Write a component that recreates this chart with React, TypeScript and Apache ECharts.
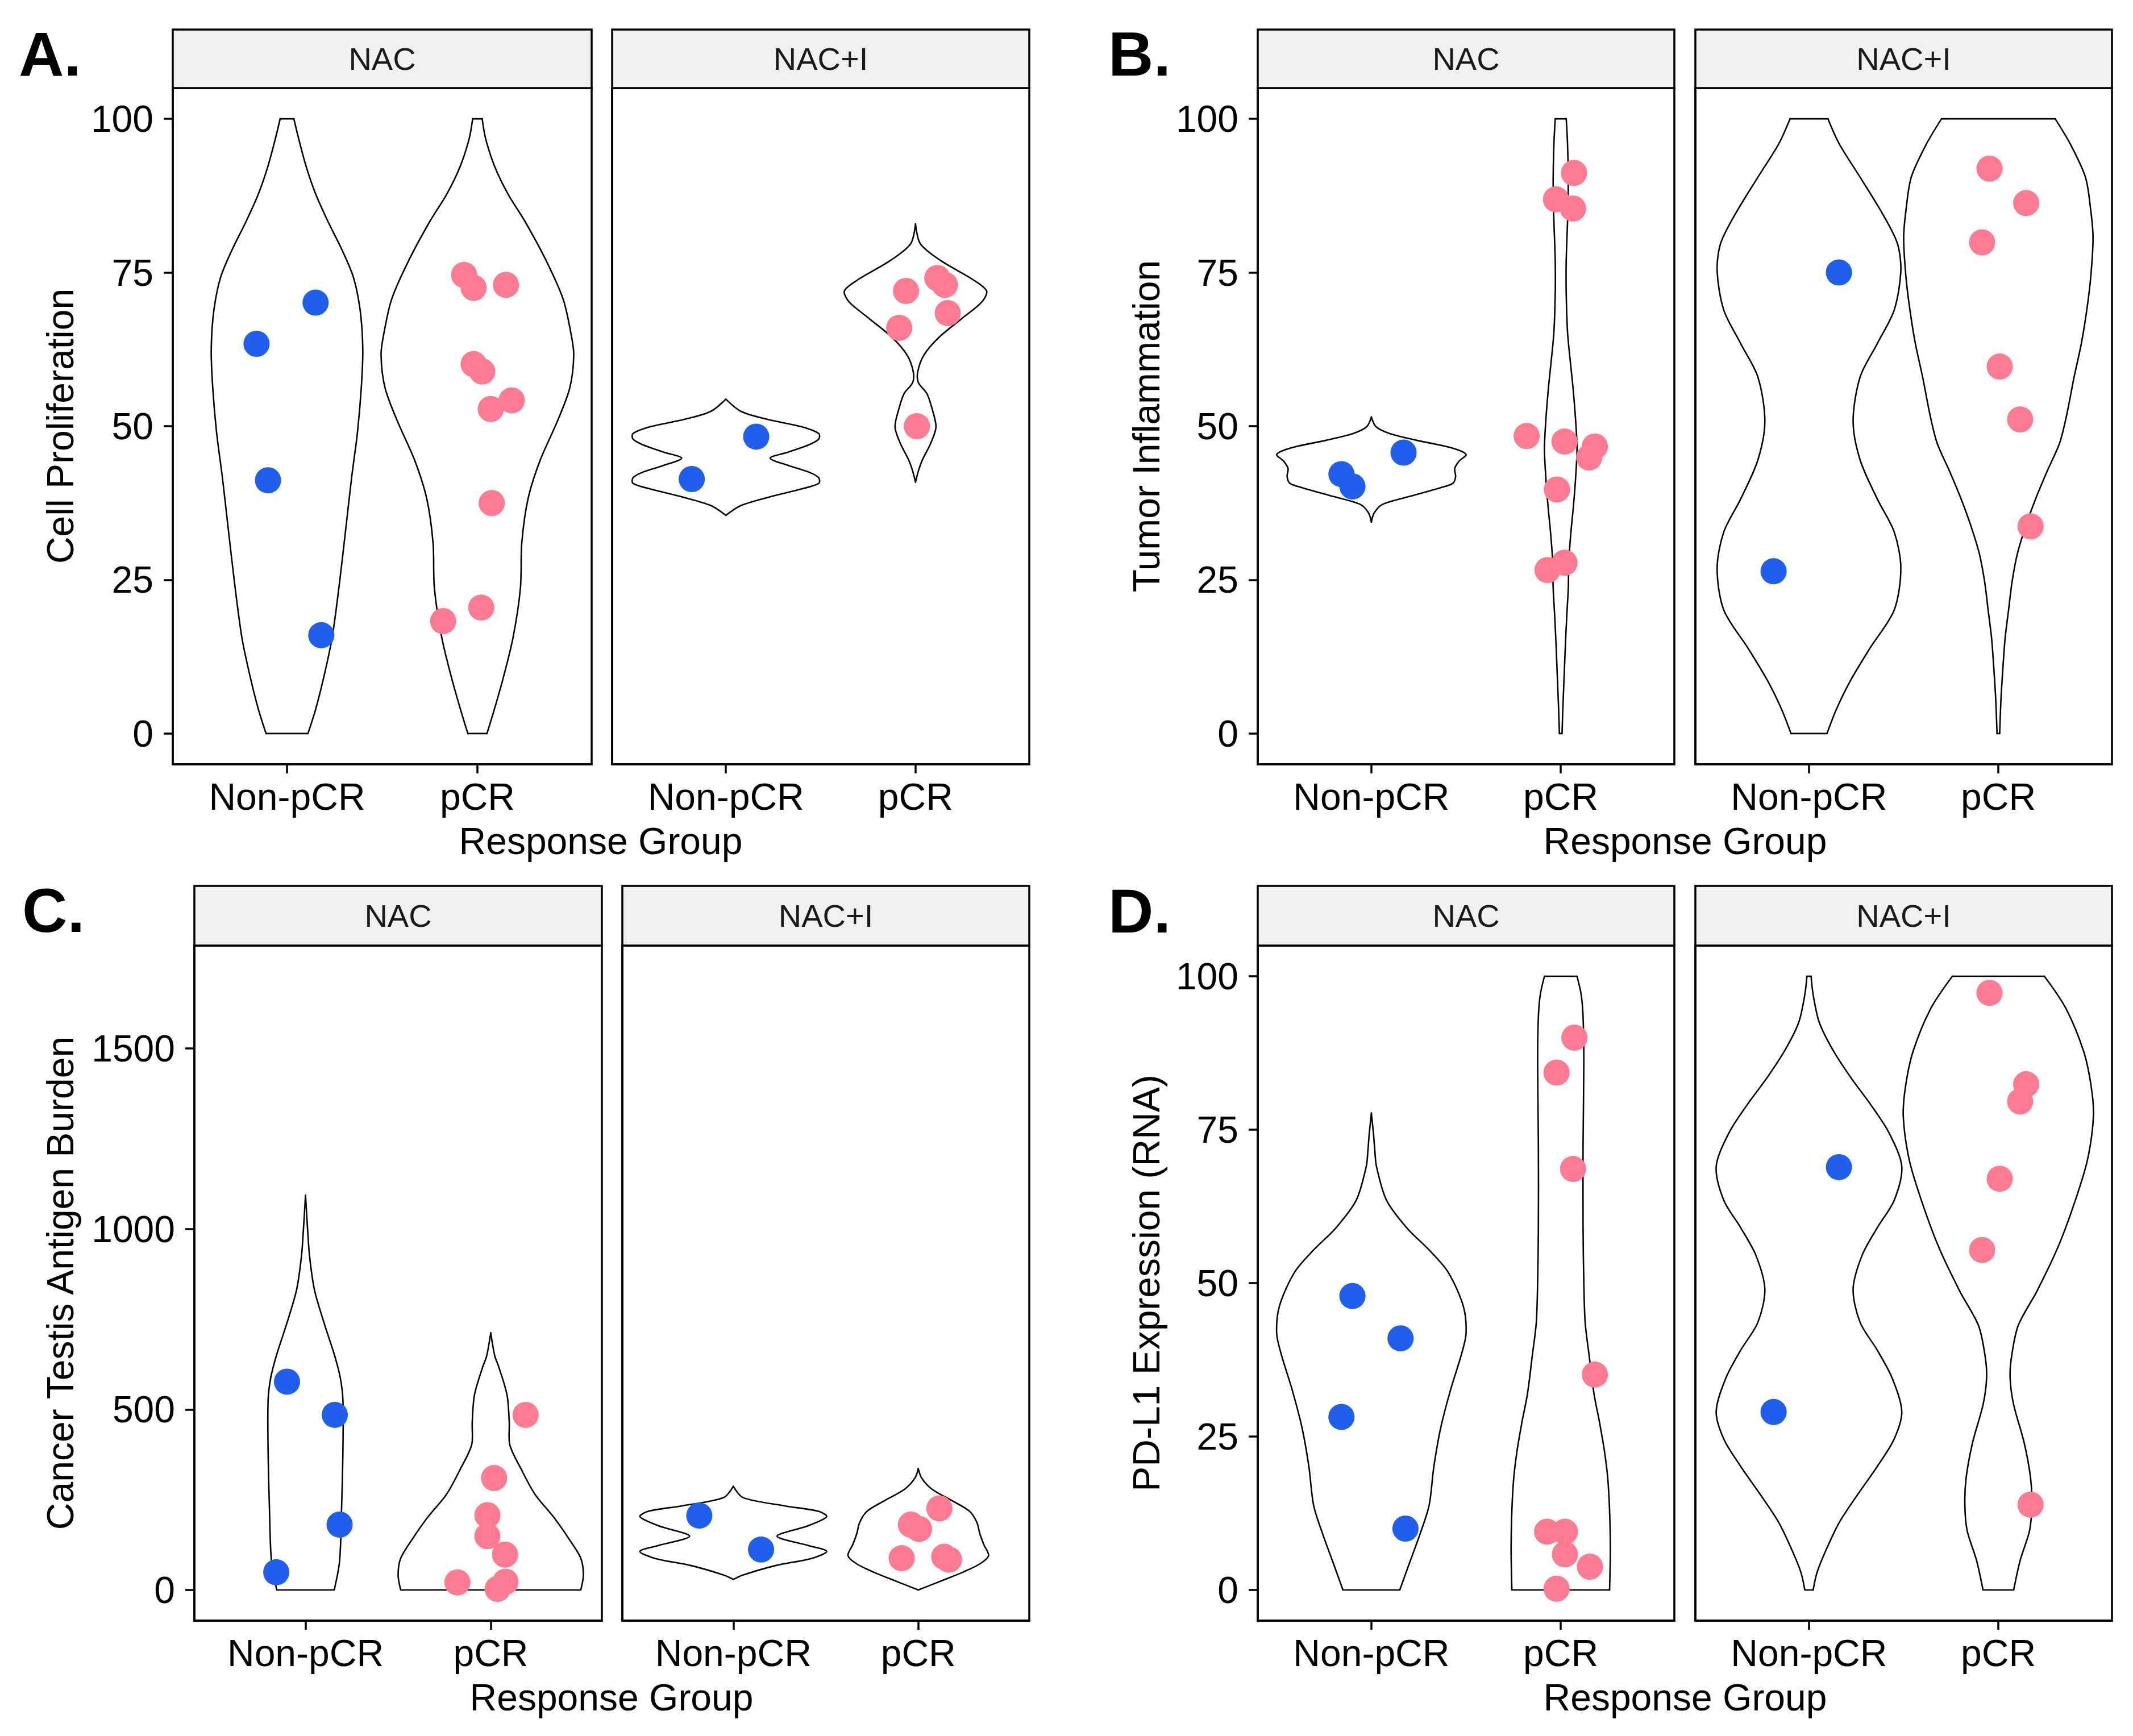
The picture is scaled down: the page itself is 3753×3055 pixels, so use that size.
import React, { useEffect, useRef } from 'react';
import * as echarts from 'echarts';

// ---------- categories / labels ----------
const groups = ['Non-pCR', 'pCR'];
const facetNames = ['NAC', 'NAC+I'];
const panelLabels = ['A.', 'B.', 'C.', 'D.'];
const yTitles = ['Cell Proliferation', 'Tumor Inflammation', 'Cancer Testis Antigen Burden', 'PD-L1 Expression (RNA)'];
const xTitle = 'Response Group';
const pctTicks = [0, 25, 50, 75, 100];
const ctaTicks = [0, 500, 1000, 1500];

// ---------- points: [horizontal jitter, value] ----------
const A_NAC_non = [[-0.16, 63.4], [0.15, 70.1], [-0.1, 41.2], [0.18, 16.0]];
const A_NAC_pcr = [[-0.07, 74.6], [-0.02, 72.5], [0.15, 73.0], [-0.02, 60.1], [0.025, 58.9], [0.07, 52.8], [0.18, 54.2], [0.075, 37.5], [-0.18, 18.3], [0.02, 20.5]];
const A_NACI_non = [[-0.18, 41.4], [0.16, 48.3]];
const A_NACI_pcr = [[-0.05, 72.0], [0.115, 74.1], [0.155, 73.0], [0.17, 68.4], [-0.086, 66.0], [0.007, 50.0]];

const B_NAC_non = [[-0.158, 42.2], [-0.1, 40.2], [0.17, 45.7]];
const B_NAC_pcr = [[0.07, 91.2], [-0.025, 86.9], [0.065, 85.4], [-0.18, 48.4], [0.02, 47.5], [0.18, 46.7], [0.15, 44.9], [-0.02, 39.7], [-0.07, 26.6], [0.02, 27.8]];
const B_NACI_non = [[0.158, 75.0], [-0.187, 26.4]];
const B_NACI_pcr = [[-0.047, 91.9], [0.147, 86.3], [-0.086, 79.9], [0.007, 59.7], [0.115, 51.1], [0.17, 33.7]];

const C_NAC_non = [[-0.1, 577], [0.158, 485], [0.184, 181], [-0.158, 49]];
const C_NAC_pcr = [[0.188, 485], [0.018, 310], [-0.018, 207], [-0.018, 149], [0.077, 98], [-0.18, 21], [0.08, 23], [0.037, 3]];
const C_NACI_non = [[-0.184, 206], [0.15, 112]];
const C_NACI_pcr = [[0.114, 226], [-0.04, 181], [0.004, 169], [-0.09, 88], [0.14, 92], [0.166, 84]];

const D_NAC_non = [[-0.1, 47.9], [0.154, 41.0], [-0.158, 28.2], [0.18, 10.0]];
const D_NAC_pcr = [[0.072, 90.0], [-0.022, 84.3], [0.065, 68.6], [0.18, 35.1], [-0.072, 9.5], [0.022, 9.5], [0.022, 5.8], [0.154, 3.8], [-0.022, 0.2]];
const D_NACI_non = [[0.158, 68.9], [-0.187, 29.0]];
const D_NACI_pcr = [[-0.047, 97.3], [0.147, 82.4], [0.115, 79.6], [0.007, 67.0], [-0.086, 55.4], [0.17, 13.9]];

// ---------- violin outlines: [value, half width in category units] ----------
const vA_NAC_non = [[100, 0.036], [96.8, 0.061], [92.3, 0.1], [87.8, 0.15], [83.3, 0.215], [78.8, 0.287], [74.3, 0.348], [68.9, 0.384], [62.5, 0.398], [56.2, 0.39], [49.0, 0.37], [41.8, 0.34], [33.7, 0.31], [24.6, 0.276], [15.6, 0.237], [9.3, 0.194], [3.9, 0.15], [0, 0.11]];
const vA_NAC_pcr = [[100, 0.025], [96.8, 0.043], [92.3, 0.09], [87.8, 0.16], [83.3, 0.25], [77.0, 0.36], [70.7, 0.45], [65.3, 0.49], [61.6, 0.506], [56.2, 0.485], [50.8, 0.42], [44.5, 0.33], [38.2, 0.266], [31.0, 0.233], [23.7, 0.226], [15.6, 0.187], [8.4, 0.13], [3.0, 0.08], [0, 0.05]];
const vA_NACI_non = [[54.4, 0], [52.4, 0.08], [51.1, 0.22], [49.9, 0.4], [48.8, 0.49], [47.9, 0.49], [47.0, 0.44], [45.8, 0.33], [44.8, 0.233], [43.6, 0.33], [42.5, 0.44], [41.6, 0.49], [40.7, 0.49], [39.8, 0.4], [38.4, 0.22], [37.1, 0.08], [35.5, 0]];
const vA_NACI_pcr = [[82.9, 0], [79.7, 0.025], [77.0, 0.13], [73.8, 0.305], [72.0, 0.375], [70.2, 0.35], [67.5, 0.244], [64.4, 0.122], [61.6, 0.045], [58.9, 0.012], [57.1, 0.015], [55.3, 0.06], [53.1, 0.085], [49.9, 0.108], [47.2, 0.08], [44.5, 0.036], [42.7, 0.015], [40.9, 0]];

const vB_NAC_non = [[51.5, 0], [49.9, 0.025], [48.8, 0.097], [47.7, 0.24], [46.5, 0.42], [45.4, 0.5], [44.3, 0.463], [43.1, 0.44], [41.8, 0.445], [40.7, 0.43], [40.0, 0.366], [38.6, 0.205], [37.3, 0.06], [35.9, 0.015], [34.4, 0]];
const vB_NAC_pcr = [[100, 0.029], [95.9, 0.036], [89.6, 0.04], [83.3, 0.036], [77.0, 0.029], [71.6, 0.029], [65.3, 0.036], [60.7, 0.05], [56.2, 0.065], [50.8, 0.079], [46.3, 0.086], [41.8, 0.079], [37.3, 0.068], [32.8, 0.054], [28.2, 0.043], [23.7, 0.04], [19.2, 0.032], [14.7, 0.025], [9.3, 0.018], [3.9, 0.011], [0, 0.007]];
const vB_NACI_non = [[100, 0.1], [95.9, 0.16], [90.5, 0.27], [84.2, 0.395], [79.7, 0.467], [75.2, 0.485], [68.9, 0.45], [63.4, 0.36], [58.0, 0.27], [50.8, 0.233], [44.5, 0.27], [38.2, 0.36], [32.8, 0.45], [26.9, 0.485], [20.1, 0.45], [13.8, 0.32], [8.4, 0.215], [3.9, 0.144], [0, 0.095]];
const vB_NACI_pcr = [[100, 0.3], [95.9, 0.38], [90.5, 0.46], [85.1, 0.488], [80.6, 0.5], [74.3, 0.488], [68.9, 0.467], [63.4, 0.438], [58.0, 0.4], [51.7, 0.36], [47.2, 0.323], [42.7, 0.258], [38.2, 0.197], [33.7, 0.144], [29.2, 0.1], [24.6, 0.072], [20.1, 0.054], [15.6, 0.036], [11.1, 0.025], [5.7, 0.014], [0, 0.007]];

const vC_NAC_non = [[1093, 0], [1001, 0.011], [924, 0.022], [832, 0.048], [740, 0.1], [648, 0.158], [587, 0.188], [525, 0.202], [387, 0.202], [233, 0.195], [80, 0.184], [0, 0.155]];
const vC_NAC_pcr = [[712, 0], [648, 0.022], [617, 0.044], [540, 0.088], [464, 0.1], [402, 0.103], [333, 0.166], [264, 0.24], [203, 0.338], [141, 0.423], [88, 0.486], [41, 0.5], [0, 0.486]];
const vC_NACI_non = [[287, 0], [256, 0.052], [233, 0.276], [218, 0.46], [203, 0.505], [178, 0.405], [149, 0.236], [123, 0.405], [107, 0.505], [87.5, 0.424], [67.5, 0.228], [41.4, 0.052], [29.2, 0]];
const vC_NACI_pcr = [[336, 0], [310, 0.018], [279, 0.074], [249, 0.177], [218, 0.277], [187, 0.317], [157, 0.332], [126, 0.354], [95, 0.38], [72, 0.332], [49, 0.24], [26, 0.129], [0, 0]];

const vD_NAC_non = [[77.7, 0], [74.4, 0.011], [71.7, 0.018], [69.0, 0.027], [63.5, 0.08], [59.0, 0.187], [55.4, 0.305], [51.8, 0.405], [46.3, 0.485], [41.8, 0.5], [38.2, 0.474], [32.8, 0.42], [26.4, 0.366], [20.1, 0.33], [13.8, 0.305], [9.2, 0.258], [4.7, 0.205], [0, 0.15]];
const vD_NAC_pcr = [[100, 0.086], [97.0, 0.108], [93.4, 0.118], [86.2, 0.122], [72.6, 0.118], [59.0, 0.118], [50.0, 0.122], [43.6, 0.129], [38.2, 0.15], [31.9, 0.176], [27.3, 0.205], [22.8, 0.23], [18.3, 0.248], [12.9, 0.258], [6.5, 0.262], [0, 0.258]];
const vD_NACI_non = [[100, 0.011], [97.0, 0.022], [92.5, 0.054], [88.0, 0.126], [83.4, 0.223], [78.9, 0.33], [74.4, 0.424], [69.0, 0.49], [63.5, 0.45], [59.0, 0.36], [54.5, 0.28], [49.0, 0.233], [43.6, 0.27], [39.1, 0.36], [34.6, 0.438], [29.1, 0.49], [24.6, 0.45], [20.1, 0.36], [15.6, 0.258], [11.0, 0.16], [6.5, 0.09], [2.9, 0.043], [0, 0.022]];
const vD_NACI_pcr = [[100, 0.243], [94.8, 0.356], [87.8, 0.45], [82.1, 0.49], [77.1, 0.502], [70.0, 0.47], [62.9, 0.4], [55.8, 0.314], [48.7, 0.204], [43.1, 0.105], [38.1, 0.07], [34.6, 0.062], [30.3, 0.08], [23.9, 0.137], [18.3, 0.17], [14.0, 0.177], [9.7, 0.165], [4.8, 0.115], [0, 0.081]];

// ---------- styling / layout ----------
const FONT = "'Liberation Sans', Arial, Helvetica, sans-serif";
const BLUE = '#1F5FEB';
const PINK = '#FF7B92';
const BORDER = 3.5;

const panels = [
  {
    label: panelLabels[0], labelX: 33, labelY: 94, yTitle: yTitles[0], yTitleX: 106, yTitleY: 750,
    xTitleX: 1057, xTitleY: 1480, top: 155, height: 1190, stripTop: 52, stripH: 103,
    yMin: -5, yMax: 105, yTicks: pctTicks,
    facets: [
      { left: 304, width: 737, violins: [vA_NAC_non, vA_NAC_pcr], points: [A_NAC_non, A_NAC_pcr] },
      { left: 1077, width: 734, violins: [vA_NACI_non, vA_NACI_pcr], points: [A_NACI_non, A_NACI_pcr] },
    ],
  },
  {
    label: panelLabels[1], labelX: 1950, labelY: 94, yTitle: yTitles[1], yTitleX: 2017, yTitleY: 750,
    xTitleX: 2965, xTitleY: 1480, top: 155, height: 1190, stripTop: 52, stripH: 103,
    yMin: -5, yMax: 105, yTicks: pctTicks,
    facets: [
      { left: 2213, width: 733, violins: [vB_NAC_non, vB_NAC_pcr], points: [B_NAC_non, B_NAC_pcr] },
      { left: 2983, width: 733, violins: [vB_NACI_non, vB_NACI_pcr], points: [B_NACI_non, B_NACI_pcr] },
    ],
  },
  {
    label: panelLabels[2], labelX: 39, labelY: 1601, yTitle: yTitles[2], yTitleX: 106, yTitleY: 2258,
    xTitleX: 1076, xTitleY: 2987, top: 1664, height: 1188, stripTop: 1559, stripH: 105,
    yMin: -85, yMax: 1785, yTicks: ctaTicks,
    facets: [
      { left: 342, width: 717, violins: [vC_NAC_non, vC_NAC_pcr], points: [C_NAC_non, C_NAC_pcr] },
      { left: 1095, width: 716, violins: [vC_NACI_non, vC_NACI_pcr], points: [C_NACI_non, C_NACI_pcr] },
    ],
  },
  {
    label: panelLabels[3], labelX: 1950, labelY: 1602, yTitle: yTitles[3], yTitleX: 2017, yTitleY: 2258,
    xTitleX: 2965, xTitleY: 2987, top: 1664, height: 1188, stripTop: 1559, stripH: 105,
    yMin: -5, yMax: 105, yTicks: pctTicks,
    facets: [
      { left: 2213, width: 733, violins: [vD_NAC_non, vD_NAC_pcr], points: [D_NAC_non, D_NAC_pcr] },
      { left: 2983, width: 733, violins: [vD_NACI_non, vD_NACI_pcr], points: [D_NACI_non, D_NACI_pcr] },
    ],
  },
];

function makeViolin(profiles: number[][][]) {
  return (params: any, api: any) => {
    const prof = profiles[params.dataIndex];
    const c = api.value(0);
    const right = prof.map(([v, h]) => api.coord([c + h, v]));
    const left = prof.map(([v, h]) => api.coord([c - h, v]));
    const style = { fill: 'none', stroke: '#000', lineWidth: 2.6, lineJoin: 'round', lineCap: 'round' };
    const children: any[] = [
      { type: 'polyline', shape: { points: right, smooth: 0.3 }, style },
      { type: 'polyline', shape: { points: left, smooth: 0.3 }, style },
    ];
    const n = prof.length - 1;
    if (prof[0][1] > 0) {
      children.push({ type: 'line', shape: { x1: left[0][0], y1: left[0][1], x2: right[0][0], y2: right[0][1] }, style });
    }
    if (prof[n][1] > 0) {
      children.push({ type: 'line', shape: { x1: left[n][0], y1: left[n][1], x2: right[n][0], y2: right[n][1] }, style });
    }
    return { type: 'group', children };
  };
}

function buildOption() {
  const grid: any[] = [];
  const xAxis: any[] = [];
  const yAxis: any[] = [];
  const series: any[] = [];
  const graphic: any[] = [];
  const axisLine = { show: true, onZero: false, lineStyle: { color: '#000', width: BORDER } };

  panels.forEach((p) => {
    p.facets.forEach((f, fi) => {
      const gi = grid.length;
      grid.push({
        left: f.left, top: p.top, width: f.width, height: p.height,
        show: true, borderColor: '#000', borderWidth: BORDER, backgroundColor: '#fff', containLabel: false,
      });
      xAxis.push({
        type: 'value', gridIndex: gi, min: 0.4, max: 2.6, position: 'bottom',
        axisLine, splitLine: { show: false },
        axisTick: { show: true, customValues: [1, 2], length: 16, lineStyle: { color: '#000', width: BORDER } },
        axisLabel: {
          show: true, customValues: [1, 2], fontSize: 66, color: '#000', fontFamily: FONT, margin: 24,
          formatter: (v: number) => groups[Math.round(v) - 1] ?? '',
        },
      });
      yAxis.push({
        type: 'value', gridIndex: gi, min: p.yMin, max: p.yMax, position: 'left',
        axisLine, splitLine: { show: false },
        axisTick: { show: fi === 0, customValues: p.yTicks, length: 16, lineStyle: { color: '#000', width: BORDER } },
        axisLabel: {
          show: fi === 0, customValues: p.yTicks, fontSize: 66, color: '#000', fontFamily: FONT, margin: 34,
          formatter: (v: number) => String(v),
        },
      });
      series.push({
        type: 'custom', xAxisIndex: gi, yAxisIndex: gi, silent: true, z: 2,
        data: [[1, 0], [2, 0]],
        renderItem: makeViolin(f.violins),
      });
      [BLUE, PINK].forEach((col, k) => {
        series.push({
          type: 'scatter', xAxisIndex: gi, yAxisIndex: gi, z: 3, silent: true,
          symbol: 'circle', symbolSize: 46,
          itemStyle: { color: col, opacity: 1 },
          data: f.points[k].map(([j, v]) => [k + 1 + j, v]),
        });
      });
      // facet strip
      graphic.push({
        type: 'rect', shape: { x: f.left, y: p.stripTop, width: f.width, height: p.stripH },
        style: { fill: '#F0F0F0', stroke: '#000', lineWidth: BORDER }, z: 10,
      });
      graphic.push({
        type: 'text', x: f.left + f.width / 2, y: p.stripTop + p.stripH / 2, z: 11,
        style: { text: facetNames[fi], fontSize: 56, fontFamily: FONT, fill: '#1a1a1a', align: 'center', verticalAlign: 'middle' },
      });
    });
    graphic.push({
      type: 'text', x: p.labelX, y: p.labelY, z: 11,
      style: { text: p.label, fontSize: 110, fontWeight: 'bold', fontFamily: FONT, fill: '#000', align: 'left', verticalAlign: 'middle' },
    });
    graphic.push({
      type: 'text', x: p.yTitleX, y: p.yTitleY, rotation: Math.PI / 2, z: 11,
      style: { text: p.yTitle, fontSize: 66, fontFamily: FONT, fill: '#000', align: 'center', verticalAlign: 'middle' },
    });
    graphic.push({
      type: 'text', x: p.xTitleX, y: p.xTitleY, z: 11,
      style: { text: xTitle, fontSize: 66, fontFamily: FONT, fill: '#000', align: 'center', verticalAlign: 'middle' },
    });
  });

  return {
    animation: false,
    backgroundColor: '#fff',
    grid, xAxis, yAxis, series, graphic,
  };
}

export default function App() {
  const ref = useRef<HTMLDivElement>(null);
  useEffect(() => {
    document.body.style.margin = '0';
    if (!ref.current) return;
    const chart = echarts.init(ref.current, null, { renderer: 'svg' });
    chart.setOption(buildOption() as any);
    return () => chart.dispose();
  }, []);
  return <div ref={ref} style={{ width: 3753, height: 3055, background: '#fff' }} />;
}
